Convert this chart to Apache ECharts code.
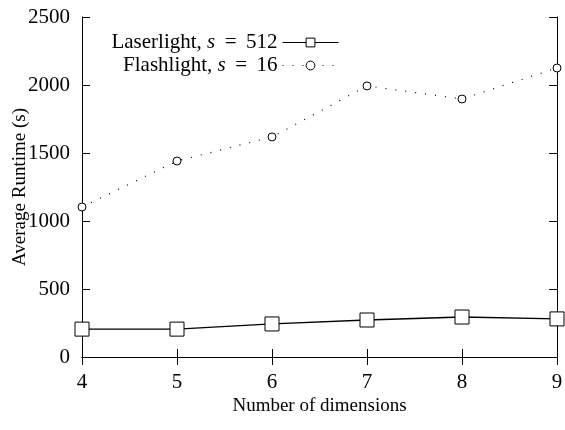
<!DOCTYPE html>
<html><head><meta charset="utf-8">
<script src="https://cdn.jsdelivr.net/npm/echarts@6/dist/echarts.min.js"></script>
<style>html,body{margin:0;padding:0;background:#fff}#c{width:565px;height:430px}</style>
</head><body><div id="c"></div>
<script>
const dims = [4, 5, 6, 7, 8, 9];
const laserlight = [205, 205, 243, 272, 294, 280];
const flashlight = [1103, 1441, 1618, 1993, 1897, 2125];
const yTicks = [0, 500, 1000, 1500, 2000, 2500];

const F = 'Liberation Serif';
const chart = echarts.init(document.getElementById('c'));
const rich = { i: { fontStyle: 'italic', fontFamily: F, fontSize: 21, color: '#000' } };
const legendBase = {
  orient: 'vertical', align: 'right', right: 221, itemWidth: 56, itemHeight: 11, itemGap: 6,
  textStyle: { fontFamily: F, fontSize: 21, color: '#000', rich: rich },
  formatter: function (n) { return n.replace(', s = ', ', {i|s} \u2009=\u2009 '); },
  lineStyle: { width: 1 },
  itemStyle: { borderWidth: 1 },
  selectedMode: false
};
chart.setOption({
  animation: false,
  grid: { left: 82, right: 8, top: 17, bottom: 73, outerBoundsMode: 'none', containLabel: false },
  legend: [
    Object.assign({}, legendBase, { top: 27, data: ['Laserlight, s = 512'] }),
    Object.assign({}, legendBase, { top: 50, data: ['Flashlight, s = 16'] })
  ],
  xAxis: [{
    type: 'value', min: 4, max: 9, interval: 1,
    name: 'Number of dimensions', nameLocation: 'middle', nameGap: 40, nameMoveOverlap: false,
    nameTextStyle: { fontFamily: F, fontSize: 19, color: '#000' },
    axisLine: { lineStyle: { color: '#000', width: 1 } },
    axisTick: { inside: true, length: 8, lineStyle: { color: '#000' } },
    axisLabel: { fontFamily: F, fontSize: 21, color: '#000', margin: 15 },
    splitLine: { show: false }
  }, {
    type: 'value', min: 4, max: 9, interval: 1, position: 'top',
    axisLine: { lineStyle: { color: '#000', width: 1 } },
    axisTick: { inside: true, length: 8, lineStyle: { color: '#000' } },
    axisLabel: { show: false }, splitLine: { show: false }
  }],
  yAxis: [{
    type: 'value', min: 0, max: 2500, interval: 500,
    name: 'Average Runtime (s)', nameLocation: 'middle', nameGap: 52, nameMoveOverlap: false,
    nameTextStyle: { fontFamily: F, fontSize: 19, color: '#000' },
    axisLine: { show: true, lineStyle: { color: '#000', width: 1 } },
    axisTick: { show: true, inside: true, length: 8, lineStyle: { color: '#000' } },
    axisLabel: { fontFamily: F, fontSize: 21, color: '#000', margin: 12,
      formatter: function (v) { return yTicks.indexOf(v) >= 0 ? String(v) : ''; } },
    splitLine: { show: false }
  }, {
    type: 'value', min: 0, max: 2500, interval: 500, position: 'right',
    axisLine: { show: true, lineStyle: { color: '#000', width: 1 } },
    axisTick: { show: true, inside: true, length: 8, lineStyle: { color: '#000' } },
    axisLabel: { show: false }, splitLine: { show: false }
  }],
  series: [{
    name: 'Laserlight, s = 512', type: 'line',
    data: dims.map((d, i) => [d, laserlight[i]]),
    symbol: 'rect', symbolSize: 14, showAllSymbol: true,
    lineStyle: { color: '#000', width: 1.3 },
    itemStyle: { color: '#fff', borderColor: '#000', borderWidth: 1 },
    z: 3
  }, {
    name: 'Flashlight, s = 16', type: 'line',
    data: dims.map((d, i) => [d, flashlight[i]]),
    symbol: 'circle', symbolSize: 8, showAllSymbol: true,
    lineStyle: { color: '#000', width: 1.2, type: [1, 9] },
    itemStyle: { color: '#fff', borderColor: '#000', borderWidth: 1 },
    z: 3
  }]
});
</script></body></html>
